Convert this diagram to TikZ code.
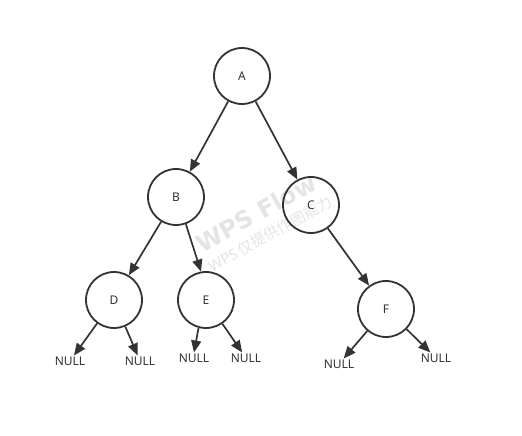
\documentclass[tikz,border=0pt]{standalone}
\usepackage{fontspec}
\setmainfont{Noto Sans}
\newfontfamily\cjkfont{Noto Sans CJK SC}
\newfontfamily\wmfont{DejaVu Sans}
\usetikzlibrary{arrows.meta}
\definecolor{ink}{HTML}{333333}
\definecolor{wm}{HTML}{E4E4E4}
\tikzset{
  tnode/.style={circle, draw=ink, line width=1.8pt, minimum size=56pt, inner sep=0pt, font=\fontsize{12}{14}\selectfont, text=ink},
  nulltext/.style={inner sep=1pt, font=\fontsize{12}{14}\selectfont, text=ink},
  arr/.style={draw=ink, line width=1.7pt, -{Triangle[length=12pt,width=10pt]}},
}
\begin{document}
\begin{tikzpicture}[x=1pt,y=-1pt]
\useasboundingbox (0,0) rectangle (522,436);
% watermark
\node[rotate=29, text=wm, font=\wmfont\bfseries\fontsize{24}{28}\selectfont] (wm1) at (256,213) {WPS Flow};
\node[rotate=29, text=wm, font=\fontsize{15}{17}\selectfont] (wm2) at (270,234) {WPS\,\cjkfont 仅提供作图能力};
% nodes
\node[tnode] (A) at (242,76) {A};
\node[tnode] (B) at (176,197) {B};
\node[tnode] (C) at (311,205) {C};
\node[tnode] (D) at (114,300) {D};
\node[tnode] (E) at (206,300) {E};
\node[tnode] (F) at (386,309) {F};
\node[nulltext] (n1) at (70,361) {NULL};
\node[nulltext] (n2) at (140,361) {NULL};
\node[nulltext] (n3) at (194,358) {NULL};
\node[nulltext] (n4) at (246,358) {NULL};
\node[nulltext] (n5) at (339,364) {NULL};
\node[nulltext] (n6) at (436,358) {NULL};
% edges
\draw[arr] (A) -- (B);
\draw[arr] (A) -- (C);
\draw[arr] (B) -- (D);
\draw[arr] (B.290) -- (E.100);
\draw[arr] (C) -- (F);
\draw[arr] (D) -- (n1);
\draw[arr] (D) -- (n2);
\draw[arr] (E.255) -- (n3.north);
\draw[arr] (E) -- (n4);
\draw[arr] (F) -- (n5);
\draw[arr] (F) -- (n6);
\end{tikzpicture}
\end{document}
